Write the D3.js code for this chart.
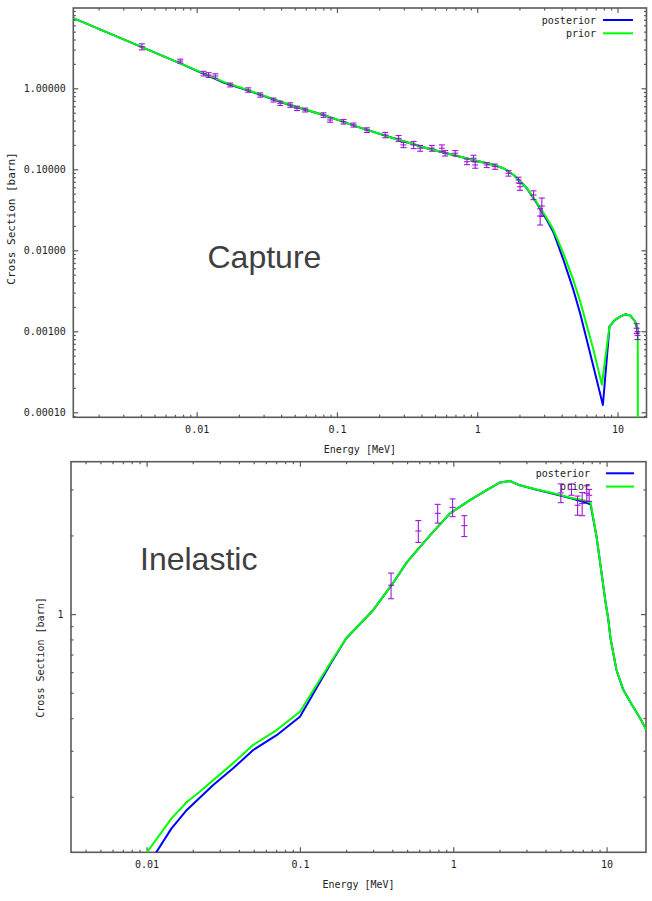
<!DOCTYPE html>
<html>
<head>
<meta charset="utf-8">
<script src="https://cdn.jsdelivr.net/npm/d3@7"></script>
<style>
  body { margin: 0; background: #fff; }
  svg { display: block; }
</style>
</head>
<body>
<svg id="chart" width="652" height="901"></svg>
<script>
// ---------- capture panel data ----------
var capXDomain = [0.00132, 16.1];
var capYDomain = [8.67e-5, 9.8];
var capYTicks = [0.0001, 0.001, 0.01, 0.1, 1];
var capXTicks = [0.01, 0.1, 1, 10];

var capPosterior = [
  [0.00132, 7.36], [0.00407, 3.22], [0.00764, 2.03], [0.009, 1.79], [0.01555, 1.18],
  [0.0269, 0.86], [0.0464, 0.618], [0.0802, 0.469], [0.139, 0.336], [0.253, 0.242],
  [0.438, 0.182], [0.757, 0.143], [1.306, 0.113], [1.54, 0.103], [1.82, 0.0851],
  [2.26, 0.0582], [2.66, 0.038], [3.14, 0.0237], [3.5, 0.0166], [4.12, 0.00759],
  [4.85, 0.00324], [5.42, 0.00166], [6.75, 0.000363], [7.87, 0.000123],
  [8.77, 0.00115], [9.62, 0.00138], [10.45, 0.00152], [11.35, 0.00162],
  [12.33, 0.00157], [13.37, 0.00132], [14.1, 0.00095]
];
var capPrior = [
  [0.00132, 7.36], [0.00407, 3.22], [0.00764, 2.03], [0.009, 1.80], [0.01555, 1.20],
  [0.0269, 0.871], [0.0464, 0.622], [0.0802, 0.469], [0.139, 0.336], [0.253, 0.242],
  [0.438, 0.182], [0.757, 0.143], [1.306, 0.113], [1.54, 0.103], [1.82, 0.0851],
  [2.26, 0.0585], [2.66, 0.0388], [3.14, 0.0248], [3.5, 0.0178], [4.12, 0.00912],
  [4.85, 0.00427], [5.42, 0.00234], [6.75, 0.000589], [7.74, 0.000219],
  [8.77, 0.00115], [9.62, 0.00138], [10.45, 0.00152], [11.35, 0.00162],
  [12.33, 0.00157], [13.37, 0.00132], [13.95, 0.0011], [14.0, 0.00001]
];
var capPtsE = [0.00407, 0.00764, 0.0112, 0.01216, 0.01358, 0.01734, 0.0233, 0.0284, 0.0353, 0.0394,
  0.0465, 0.0519, 0.0594, 0.0802, 0.0895, 0.1114, 0.1313, 0.1636, 0.221, 0.275,
  0.298, 0.352, 0.392, 0.475, 0.56, 0.591, 0.697, 0.845, 0.941, 0.968,
  1.17, 1.34, 1.67, 1.97, 2.02, 2.52, 2.89, 2.81, 13.7, 13.9];
var capPtsSig = [3.26, 2.17, 1.52, 1.46, 1.42, 1.10, 0.953, 0.827, 0.717, 0.653,
  0.622, 0.566, 0.540, 0.468, 0.406, 0.387, 0.352, 0.305, 0.265, 0.241,
  0.200, 0.200, 0.182, 0.182, 0.182, 0.158, 0.158, 0.124, 0.137, 0.113,
  0.113, 0.108, 0.0893, 0.0738, 0.061, 0.0482, 0.0352, 0.0265, 0.00109, 0.00089];
var capPtsErr = [0.28, 0.12, 0.10, 0.10, 0.09, 0.06, 0.06, 0.05, 0.04, 0.04,
  0.04, 0.035, 0.03, 0.03, 0.025, 0.025, 0.02, 0.02, 0.02, 0.02,
  0.015, 0.02, 0.015, 0.015, 0.018, 0.012, 0.012, 0.01, 0.012, 0.01,
  0.008, 0.008, 0.007, 0.006, 0.006, 0.006, 0.009, 0.006, 0.00015, 0.0001];

// ---------- inelastic panel data ----------
var inelXDomain = [0.003214, 18.07];
var inelYDomain = [0.1226, 3.83];
var inelYTicks = [1];
var inelXTicks = [0.01, 0.1, 1, 10];

var inelPosterior = [
  [0.0113, 0.12], [0.0145, 0.151], [0.0183, 0.178], [0.0272, 0.222], [0.0367, 0.257],
  [0.0496, 0.302], [0.0705, 0.344], [0.1, 0.405], [0.157, 0.64], [0.2, 0.807],
  [0.3, 1.035], [0.396, 1.29], [0.5, 1.585], [0.705, 2.0], [0.952, 2.43],
  [1.285, 2.73], [1.65, 2.98], [2.02, 3.19], [2.34, 3.23], [2.72, 3.11],
  [3.5, 2.99], [4.49, 2.89], [5.77, 2.78], [7.06, 2.69], [7.86, 2.63],
  [8.6, 1.98], [9.8, 1.13], [10.26, 0.955], [10.6, 0.809], [11.6, 0.611],
  [12.8, 0.516], [14.4, 0.457], [16.8, 0.393], [18.2, 0.36]
];
var inelPrior = [
  [0.0098, 0.12], [0.0145, 0.165], [0.0183, 0.191], [0.0222, 0.209], [0.0367, 0.269],
  [0.0496, 0.316], [0.0705, 0.36], [0.1, 0.423], [0.157, 0.647], [0.2, 0.807],
  [0.3, 1.035], [0.396, 1.29], [0.5, 1.585], [0.705, 2.0], [0.952, 2.43],
  [1.285, 2.73], [1.65, 2.98], [2.02, 3.19], [2.34, 3.23], [2.72, 3.11],
  [3.5, 3.0], [4.49, 2.9], [5.77, 2.79], [7.06, 2.73], [7.86, 2.67],
  [8.6, 1.98], [9.8, 1.13], [10.26, 0.955], [10.6, 0.809], [11.6, 0.611],
  [12.8, 0.516], [14.4, 0.457], [16.8, 0.393], [18.2, 0.36]
];
var inelPtsE = [0.393, 0.592, 0.791, 0.99, 1.18, 5.03, 5.9, 6.47, 6.93, 7.43, 7.7];
var inelPtsSig = [1.29, 2.08, 2.43, 2.56, 2.18, 2.91, 3.0, 2.61, 2.65, 2.9, 2.85];
var inelPtsErr = [0.145, 0.2, 0.2, 0.2, 0.2, 0.24, 0.15, 0.22, 0.27, 0.2, 0.15];

var legendNames = ["posterior", "prior"];
var lineColors = ["#0000ff", "#00ff00"];
var pointColor = "#9400d3";
var frameColor = "#5a5a5a";
var monoFont = "DejaVu Sans Mono";

var svg = d3.select("#chart");

function logMinors(domain) {
    var out = [];
    var lo = Math.floor(Math.log10(domain[0])), hi = Math.ceil(Math.log10(domain[1]));
    for (var e = lo; e <= hi; e++) {
        for (var m = 2; m <= 9; m++) {
            var v = m * Math.pow(10, e);
            if (v >= domain[0] && v <= domain[1]) out.push(v);
        }
    }
    return out;
}

function styleAxis(g) {
    g.select(".domain").remove();
    g.selectAll(".tick line").attr("stroke", frameColor).attr("stroke-width", 1.2);
    g.selectAll(".tick text")
        .attr("fill", "#222")
        .style("font-family", monoFont)
        .style("font-size", "10px");
}

function drawPanel(p) {
    var x = d3.scaleLog().domain(p.xDomain).range([p.left, p.right]);
    var y = d3.scaleLog().domain(p.yDomain).range([p.bottom, p.top]);
    var g = svg.append("g");

    var clipId = "clip" + p.id;
    svg.append("clipPath").attr("id", clipId)
        .append("rect")
        .attr("x", p.left).attr("y", p.top)
        .attr("width", p.right - p.left).attr("height", p.bottom - p.top);

    var xMin = logMinors(p.xDomain), yMin = logMinors(p.yDomain);
    var major = 5, minor = 2.5;

    // major ticks + labels
    g.append("g").attr("transform", "translate(" + p.left + ",0)")
        .call(d3.axisLeft(y).tickValues(p.yTicks).tickSize(-major).tickPadding(7.5).tickFormat(p.yFormat))
        .call(styleAxis);
    g.append("g").attr("transform", "translate(" + p.right + ",0)")
        .call(d3.axisRight(y).tickValues(p.yTicks).tickSize(-major).tickFormat(""))
        .call(styleAxis);
    g.append("g").attr("transform", "translate(0," + p.bottom + ")")
        .call(d3.axisBottom(x).tickValues(p.xTicks).tickSize(-major).tickPadding(9).tickFormat(d3.format("~g")))
        .call(styleAxis);
    g.append("g").attr("transform", "translate(0," + p.top + ")")
        .call(d3.axisTop(x).tickValues(p.xTicks).tickSize(-major).tickFormat(""))
        .call(styleAxis);

    // minor ticks
    g.append("g").attr("transform", "translate(" + p.left + ",0)")
        .call(d3.axisLeft(y).tickValues(yMin).tickSize(-minor).tickFormat("")).call(styleAxis);
    g.append("g").attr("transform", "translate(" + p.right + ",0)")
        .call(d3.axisRight(y).tickValues(yMin).tickSize(-minor).tickFormat("")).call(styleAxis);
    g.append("g").attr("transform", "translate(0," + p.bottom + ")")
        .call(d3.axisBottom(x).tickValues(xMin).tickSize(-minor).tickFormat("")).call(styleAxis);
    g.append("g").attr("transform", "translate(0," + p.top + ")")
        .call(d3.axisTop(x).tickValues(xMin).tickSize(-minor).tickFormat("")).call(styleAxis);

    // frame
    g.append("rect")
        .attr("x", p.left).attr("y", p.top)
        .attr("width", p.right - p.left).attr("height", p.bottom - p.top)
        .attr("fill", "none").attr("stroke", frameColor).attr("stroke-width", 1.6);

    // axis titles
    g.append("text")
        .attr("x", (p.left + p.right) / 2).attr("y", p.xLabelY)
        .attr("text-anchor", "middle")
        .style("font-family", monoFont).style("font-size", "10px").attr("fill", "#222")
        .text("Energy [MeV]");
    g.append("text")
        .attr("transform", "translate(" + p.yLabelX + "," + p.yLabelY + ") rotate(-90)")
        .attr("text-anchor", "middle")
        .style("font-family", monoFont).style("font-size", p.yLabelSize + "px").attr("fill", "#222")
        .text("Cross Section [barn]");

    // big title
    g.append("text")
        .attr("x", p.titleX).attr("y", p.titleY)
        .style("font-family", "Liberation Sans, Arial, sans-serif").style("font-size", "32px")
        .attr("fill", "#404040")
        .text(p.title);

    // legend
    legendNames.forEach(function(name, i) {
        var ly = p.legendY + i * 13.3;
        g.append("text")
            .attr("x", p.legendTextX).attr("y", ly + 3.5)
            .attr("text-anchor", "end")
            .style("font-family", monoFont).style("font-size", "10px").attr("fill", "#222")
            .text(name);
        g.append("line")
            .attr("x1", p.legendLine[0]).attr("x2", p.legendLine[1])
            .attr("y1", ly).attr("y2", ly)
            .attr("stroke", lineColors[i]).attr("stroke-width", 2);
    });

    // curves
    var line = d3.line().x(function(d) { return x(d[0]); }).y(function(d) { return y(d[1]); });
    var plot = g.append("g").attr("clip-path", "url(#" + clipId + ")");
    [p.posterior, p.prior].forEach(function(series, i) {
        plot.append("path")
            .datum(series)
            .attr("d", line)
            .attr("fill", "none")
            .attr("stroke", lineColors[i])
            .attr("stroke-width", 2)
            .attr("stroke-linejoin", "round");
    });

    // error bars
    var pts = p.ptsE.map(function(e, i) { return { e: e, s: p.ptsSig[i], err: p.ptsErr[i] }; });
    var bars = plot.selectAll(".eb" + p.id).data(pts).enter().append("g")
        .attr("stroke", pointColor).attr("stroke-width", 1.1).attr("opacity", 0.9);
    var cap = 3;
    bars.append("line")
        .attr("x1", function(d) { return x(d.e); }).attr("x2", function(d) { return x(d.e); })
        .attr("y1", function(d) { return y(d.s - d.err); }).attr("y2", function(d) { return y(d.s + d.err); });
    [function(d) { return y(d.s - d.err); }, function(d) { return y(d.s + d.err); }, function(d) { return y(d.s); }]
        .forEach(function(fy) {
            bars.append("line")
                .attr("x1", function(d) { return x(d.e) - cap; }).attr("x2", function(d) { return x(d.e) + cap; })
                .attr("y1", fy).attr("y2", fy);
        });
}

drawPanel({
    id: "cap", left: 73.3, right: 646.5, top: 8, bottom: 417.3,
    xDomain: capXDomain, yDomain: capYDomain, xTicks: capXTicks, yTicks: capYTicks,
    yFormat: d3.format(".5f"),
    xLabelY: 453, yLabelX: 15, yLabelY: 218.5, yLabelSize: 11,
    title: "Capture", titleX: 207.5, titleY: 268,
    legendY: 20, legendTextX: 596, legendLine: [603, 633],
    posterior: capPosterior, prior: capPrior,
    ptsE: capPtsE, ptsSig: capPtsSig, ptsErr: capPtsErr
});

drawPanel({
    id: "inel", left: 71, right: 646, top: 461.7, bottom: 852.3,
    xDomain: inelXDomain, yDomain: inelYDomain, xTicks: inelXTicks, yTicks: inelYTicks,
    yFormat: d3.format("~g"),
    xLabelY: 887.5, yLabelX: 44, yLabelY: 657.5, yLabelSize: 10,
    title: "Inelastic", titleX: 140, titleY: 569.5,
    legendY: 473.3, legendTextX: 590, legendLine: [606, 634],
    posterior: inelPosterior, prior: inelPrior,
    ptsE: inelPtsE, ptsSig: inelPtsSig, ptsErr: inelPtsErr
});
</script>
</body>
</html>
